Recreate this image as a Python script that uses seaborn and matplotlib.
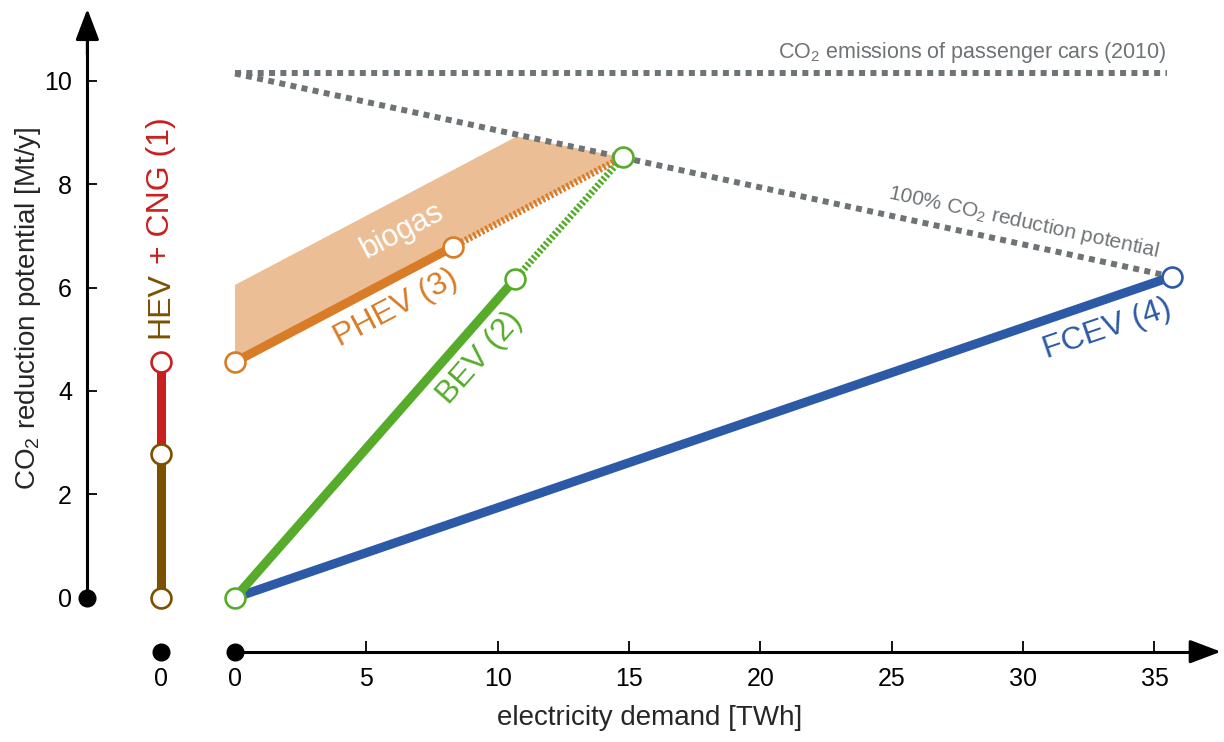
import numpy as np
import pandas as pd
import matplotlib
matplotlib.use("Agg")
import matplotlib.pyplot as plt
import seaborn as sns

# --- data ---
# HEV + CNG column (no electricity demand, drawn in its own column)
hev_levels = [0.0, 2.77]          # HEV part (brown)
cng_levels = [2.77, 4.55]         # CNG part (red)

# PHEV (3): electricity demand [TWh], CO2 reduction [Mt/y]
phev_x = [0.0, 8.31]
phev_y = [4.56, 6.79]
phev_ext_x = [8.31, 14.76]
phev_ext_y = [6.79, 8.52]

# BEV (2)
bev_x = [0.0, 10.66]
bev_y = [0.0, 6.16]
bev_ext_x = [10.66, 14.76]
bev_ext_y = [6.16, 8.52]

# FCEV (4)
fcev_x = [0.0, 35.66]
fcev_y = [0.0, 6.21]

# biogas area on top of PHEV
biogas_x = [0.0, 0.0, 10.72, 14.76, 8.31, 0.0]
biogas_y = [4.56, 6.05, 8.92, 8.52, 6.79, 4.56]

# reference lines
emis2010_x = [0.0, 35.47]
emis2010_y = [10.14, 10.14]
full_red_x = [0.0, 35.66]
full_red_y = [10.14, 6.21]

x_ticks = [0, 5, 10, 15, 20, 25, 30, 35]
y_ticks = [0, 2, 4, 6, 8, 10]

# colours
RED = "#C8201E"
BROWN = "#7B5100"
ORANGE = "#D97C28"
FILL = "#EBBE95"
GREEN = "#56AC2A"
BLUE = "#2D5AA6"
GRAY = "#6E7376"

# layout constants (data coords)
HEV_COL = -2.83
Y_AXIS_X = -5.62
X_AXIS_Y = -1.044

sns.set_theme(style="white")
plt.rcParams["font.family"] = ["Liberation Sans", "DejaVu Sans"]
plt.rcParams["mathtext.default"] = "regular"

fig = plt.figure(figsize=(12.24, 7.42), dpi=100)
ax = fig.add_axes([0, 0, 1, 1])
ax.set_xlim(-8.946, 37.648)
ax.set_ylim(-2.791, 11.561)
ax.spines["top"].set_visible(False)
ax.spines["right"].set_visible(False)
ax.spines["left"].set_position(("data", Y_AXIS_X))
ax.spines["bottom"].set_position(("data", X_AXIS_Y))
ax.spines["left"].set_bounds(0, 11.0)
ax.spines["bottom"].set_bounds(0, 37.0)
for k in ("left", "bottom"):
    ax.spines[k].set_linewidth(2.2)
    ax.spines[k].set_color("black")

LW = 6.5
dotted_gray = dict(color=GRAY, lw=4.3, linestyle=(0, (1.0, 0.9)))
hatch = (0, (0.36, 0.3))

# biogas area
ax.fill(biogas_x, biogas_y, color=FILL, lw=0, zorder=1)

# reference lines
sns.lineplot(x=emis2010_x, y=emis2010_y, ax=ax, sort=False, estimator=None, zorder=2, **dotted_gray)
sns.lineplot(x=full_red_x, y=full_red_y, ax=ax, sort=False, estimator=None, zorder=2, **dotted_gray)

# dotted extensions
sns.lineplot(x=phev_ext_x, y=phev_ext_y, ax=ax, color=ORANGE, lw=5.0, linestyle=hatch,
             sort=False, estimator=None, zorder=3)
sns.lineplot(x=bev_ext_x, y=bev_ext_y, ax=ax, color=GREEN, lw=5.0, linestyle=hatch,
             sort=False, estimator=None, zorder=3)

# main lines
sns.lineplot(x=fcev_x, y=fcev_y, ax=ax, color=BLUE, lw=LW, sort=False, estimator=None, zorder=4)
sns.lineplot(x=bev_x, y=bev_y, ax=ax, color=GREEN, lw=LW, sort=False, estimator=None, zorder=4)
sns.lineplot(x=phev_x, y=phev_y, ax=ax, color=ORANGE, lw=LW, sort=False, estimator=None, zorder=4)
sns.lineplot(x=[HEV_COL] * 2, y=hev_levels, ax=ax, color=BROWN, lw=LW, sort=False, estimator=None, zorder=4)
sns.lineplot(x=[HEV_COL] * 2, y=cng_levels, ax=ax, color=RED, lw=LW, sort=False, estimator=None, zorder=4)

# open circles
circ = dict(s=205, color="white", linewidth=1.9, zorder=6, ax=ax, legend=False)
sns.scatterplot(x=fcev_x[1:], y=fcev_y[1:], edgecolor=BLUE, **circ)
sns.scatterplot(x=bev_ext_x, y=bev_ext_y, edgecolor=GREEN, **circ)
sns.scatterplot(x=[bev_x[0]], y=[bev_y[0]], edgecolor=GREEN, **circ)
sns.scatterplot(x=phev_x, y=phev_y, edgecolor=ORANGE, **circ)
sns.scatterplot(x=[HEV_COL] * 2, y=hev_levels, edgecolor=BROWN, **circ)
sns.scatterplot(x=[HEV_COL], y=cng_levels[1:], edgecolor=RED, **circ)

# arrow heads and origin dots
arrow = dict(arrowstyle="-|>,head_length=0.95,head_width=0.36", color="black", lw=2.2,
             shrinkA=0, shrinkB=0, mutation_scale=20)
ax.annotate("", xy=(Y_AXIS_X, 11.39), xytext=(Y_AXIS_X, 10.5), arrowprops=arrow, zorder=5)
ax.annotate("", xy=(37.53, X_AXIS_Y), xytext=(36.5, X_AXIS_Y), arrowprops=arrow, zorder=5)
ax.plot([Y_AXIS_X, 0, HEV_COL], [0, X_AXIS_Y, X_AXIS_Y], "o", color="black", ms=12,
        zorder=6, clip_on=False)

# ticks
ax.set_xticks([HEV_COL] + x_ticks)
ax.set_xticklabels(["0"] + [str(t) for t in x_ticks], fontsize=18)
ax.set_yticks(y_ticks)
ax.set_yticklabels([str(t) for t in y_ticks], fontsize=18)
ax.tick_params(axis="x", which="major", direction="in", length=8, width=1.3, pad=11,
               colors="black", bottom=True, top=False)
ax.tick_params(axis="y", which="major", direction="in", length=7, width=1.3, pad=11,
               colors="black", left=True, right=False)
for t in ax.xaxis.get_major_ticks() + ax.yaxis.get_major_ticks():
    t.tick1line.set_visible(True)
    t.tick1line.set_zorder(5)
# zero positions carry a dot instead of a tick mark
xt = ax.xaxis.get_major_ticks()
xt[0].tick1line.set_visible(False)
xt[1].tick1line.set_visible(False)
ax.yaxis.get_major_ticks()[0].tick1line.set_visible(False)
ax.grid(False)

# axis titles
ax.text(15.80, -2.33, "electricity demand [TWh]", fontsize=20, ha="center", va="center")
ax.text(-7.88, 5.60, "CO$_2$ reduction potential [Mt/y]", fontsize=20, rotation=90,
        ha="center", va="center")

# labels
t_hev = ax.text(HEV_COL, 5.02, "HEV", color=BROWN, fontsize=23, rotation=90,
                ha="center", va="bottom")
ax.annotate("+ CNG (1)", xy=(0.5, 1.0), xycoords=t_hev, xytext=(0, 6),
            textcoords="offset points", color=RED, fontsize=23, rotation=90,
            ha="center", va="bottom")
ax.text(6.13, 5.60, "PHEV (3)", color=ORANGE, fontsize=23, rotation=27.7,
        ha="center", va="center", rotation_mode="anchor")
ax.text(6.36, 7.09, "biogas", color="white", fontsize=22, rotation=27.6,
        ha="center", va="center", rotation_mode="anchor")
ax.text(9.33, 4.63, "BEV (2)", color=GREEN, fontsize=23, rotation=48.6,
        ha="center", va="center", rotation_mode="anchor")
ax.text(33.19, 5.20, "FCEV (4)", color=BLUE, fontsize=23, rotation=18.9,
        ha="center", va="center", rotation_mode="anchor")
ax.text(35.48, 10.44, "CO$_2$ emissions of passenger cars (2010)", color=GRAY,
        fontsize=15.5, ha="right", va="baseline")
ax.text(30.03, 7.27, "100% CO$_2$ reduction potential", color=GRAY, fontsize=15,
        rotation=-12.3, ha="center", va="center", rotation_mode="anchor")

fig.savefig("out.png", dpi=100)
